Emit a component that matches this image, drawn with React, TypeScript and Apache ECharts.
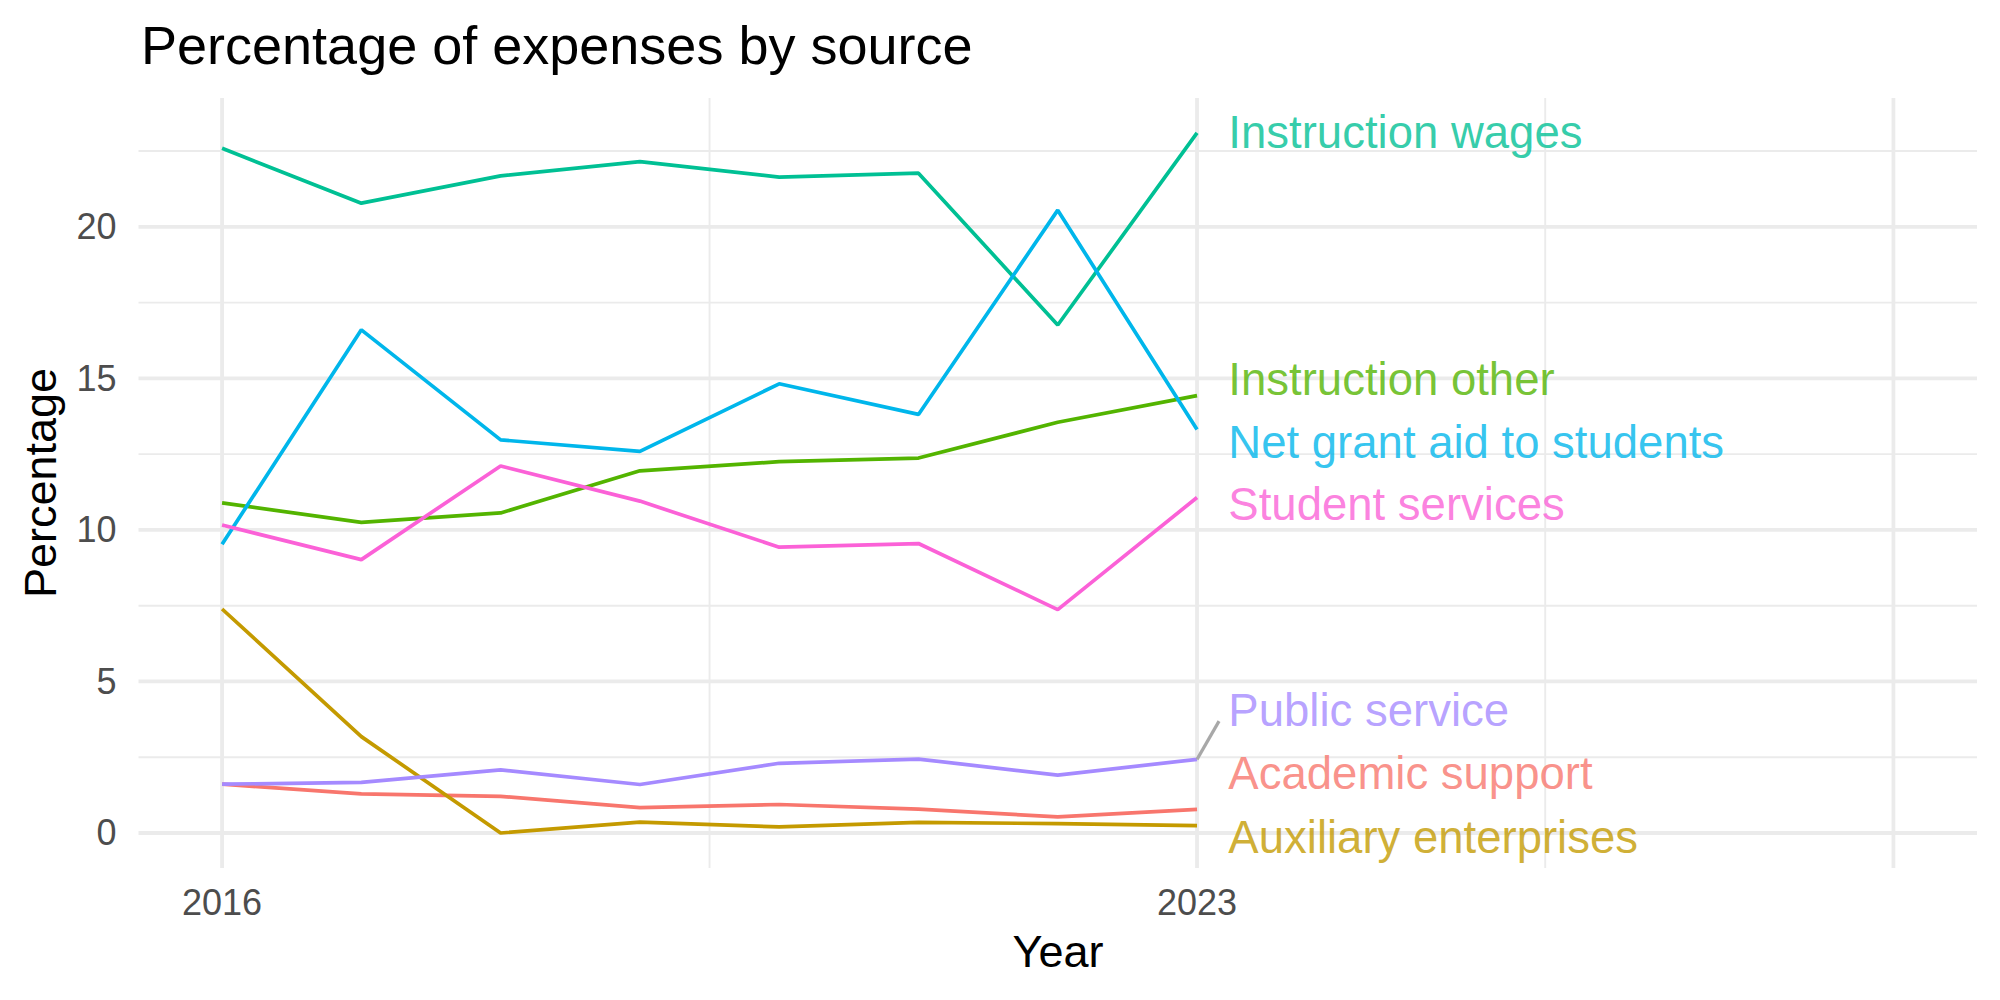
import React, { useEffect, useRef } from "react";
import * as echarts from "echarts";

// ---- data ----
const YEARS = [2016, 2017, 2018, 2019, 2020, 2021, 2022, 2023];
const SERIES_NAMES = [
  "Academic support",
  "Auxiliary enterprises",
  "Instruction other",
  "Instruction wages",
  "Net grant aid to students",
  "Public service",
  "Student services",
];
const ACADEMIC_SUPPORT = [1.61, 1.29, 1.21, 0.84, 0.94, 0.79, 0.53, 0.78];
const AUXILIARY_ENTERPRISES = [7.39, 3.18, 0.0, 0.36, 0.2, 0.35, 0.31, 0.24];
const INSTRUCTION_OTHER = [10.89, 10.25, 10.56, 11.95, 12.25, 12.37, 13.55, 14.43];
const INSTRUCTION_WAGES = [22.59, 20.78, 21.68, 22.15, 21.64, 21.77, 16.76, 23.1];
const NET_GRANT_AID = [9.53, 16.6, 12.97, 12.59, 14.82, 13.81, 20.55, 13.31];
const PUBLIC_SERVICE = [1.61, 1.67, 2.08, 1.6, 2.3, 2.44, 1.91, 2.43];
const STUDENT_SERVICES = [10.16, 9.02, 12.11, 10.95, 9.43, 9.55, 7.37, 11.07];
const SERIES_VALUES = [
  ACADEMIC_SUPPORT,
  AUXILIARY_ENTERPRISES,
  INSTRUCTION_OTHER,
  INSTRUCTION_WAGES,
  NET_GRANT_AID,
  PUBLIC_SERVICE,
  STUDENT_SERVICES,
];
// repelled label positions (y in data units)
const LABEL_Y = [1.95, -0.15, 14.97, 23.1, 12.89, 4.03, 10.83];
const LABEL_X = 2023.225;
const PUBLIC_SEGMENT_END = [2023.158, 3.69];

// axis breaks
const X_MIN = 2015.4;
const X_MAX = 2028.6;
const Y_MIN = -1.155;
const Y_MAX = 24.25;
const X_LABELS = [2016, 2023];
const Y_LABELS = [0, 5, 10, 15, 20];
const X_MAJOR = [2016, 2023, 2028];
const X_MINOR = [2019.5, 2025.5];
const Y_MAJOR = [0, 5, 10, 15, 20];
const Y_MINOR = [2.5, 7.5, 12.5, 17.5, 22.5];

const COLORS = ["#F8766D", "#C49A00", "#53B400", "#00C094", "#00B6EB", "#A58AFF", "#FB61D7"];
const FONT = '"Liberation Sans", Arial, Helvetica, sans-serif';

export default function App() {
  const ref = useRef<HTMLDivElement>(null);
  useEffect(() => {
    if (!ref.current) return;
    const chart = echarts.init(ref.current, null, { renderer: "svg" });

    const gridSeries: any[] = [];
    const gl = (data: number[][], width: number) => ({
      type: "line",
      data,
      silent: true,
      symbol: "none",
      z: 1,
      lineStyle: { color: "#EBEBEB", width },
      tooltip: { show: false },
    });
    Y_MAJOR.forEach((v) => gridSeries.push(gl([[X_MIN, v], [X_MAX, v]], 3.8)));
    Y_MINOR.forEach((v) => gridSeries.push(gl([[X_MIN, v], [X_MAX, v]], 1.9)));
    X_MAJOR.forEach((v) => gridSeries.push(gl([[v, Y_MIN], [v, Y_MAX]], 3.8)));
    X_MINOR.forEach((v) => gridSeries.push(gl([[v, Y_MIN], [v, Y_MAX]], 1.9)));

    const dataSeries = SERIES_NAMES.map((name, i) => ({
      type: "line",
      name,
      data: YEARS.map((y, j) => [y, SERIES_VALUES[i][j]]),
      symbol: "none",
      z: 3,
      lineStyle: { color: COLORS[i], width: 3.7 },
    }));

    const segment = {
      type: "line",
      data: [[YEARS[YEARS.length - 1], PUBLIC_SERVICE[PUBLIC_SERVICE.length - 1]], PUBLIC_SEGMENT_END],
      symbol: "none",
      z: 3,
      silent: true,
      lineStyle: { color: "#A8A8A8", width: 3.2 },
    };

    const labels = {
      type: "scatter",
      symbolSize: 0,
      z: 4,
      silent: true,
      data: SERIES_NAMES.map((name, i) => ({
        value: [LABEL_X, LABEL_Y[i]],
        label: {
          show: true,
          position: "right",
          distance: 0,
          formatter: name,
          color: COLORS[i],
          fontSize: 45.5,
          fontFamily: FONT,
        },
      })),
    };

    chart.setOption({
      animation: false,
      backgroundColor: "#FFFFFF",
      grid: { left: 138.5, right: 23, top: 98, bottom: 132, containLabel: false },
      xAxis: {
        type: "value",
        min: X_MIN,
        max: X_MAX,
        minInterval: 1,
        maxInterval: 1,
        axisLine: { show: false },
        axisTick: { show: false },
        splitLine: { show: false },
        axisLabel: {
          formatter: (v: number) => (X_LABELS.includes(Math.round(v * 1000) / 1000) ? String(v) : ""),
          color: "#4D4D4D",
          fontSize: 36,
          fontFamily: FONT,
          margin: 16,
          hideOverlap: false,
        },
      },
      yAxis: {
        type: "value",
        min: Y_MIN,
        max: Y_MAX,
        minInterval: 5,
        maxInterval: 5,
        axisLine: { show: false },
        axisTick: { show: false },
        splitLine: { show: false },
        axisLabel: {
          formatter: (v: number) => (Y_LABELS.includes(Math.round(v * 1000) / 1000) ? String(v) : ""),
          color: "#4D4D4D",
          fontSize: 36,
          fontFamily: FONT,
          margin: 22,
          hideOverlap: false,
        },
      },
      graphic: [
        {
          type: "text",
          x: 141,
          y: 45,
          style: {
            text: "Percentage of expenses by source",
            fontSize: 54,
            fontFamily: FONT,
            fill: "#000000",
            align: "left",
            verticalAlign: "middle",
          },
        },
        {
          type: "text",
          x: 1058,
          y: 951,
          style: {
            text: "Year",
            fontSize: 45,
            fontFamily: FONT,
            fill: "#000000",
            align: "center",
            verticalAlign: "middle",
          },
        },
        {
          type: "text",
          x: 40,
          y: 483,
          rotation: Math.PI / 2,
          style: {
            text: "Percentage",
            fontSize: 45,
            fontFamily: FONT,
            fill: "#000000",
            align: "center",
            verticalAlign: "middle",
          },
        },
      ],
      series: [...gridSeries, ...dataSeries, segment, labels],
    });
    return () => chart.dispose();
  }, []);
  return (
    <div
      ref={ref}
      style={{ position: "fixed", left: 0, top: 0, width: 2000, height: 1000, background: "#FFFFFF" }}
    />
  );
}
